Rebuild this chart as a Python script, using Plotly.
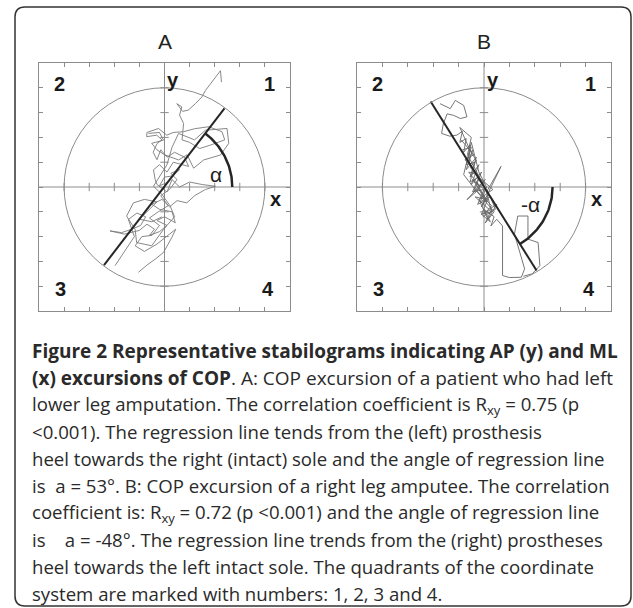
import numpy as np
import plotly.graph_objects as go

W, H = 633, 608

# ---- data (axis units, range -5..5, circle radius 4) ----
ticks = [-4, -3, -2, -1, 1, 2, 3, 4]
circle_r = 4

# panel A: COP excursion (left lower leg amputee)
copA1_x = [-1.97, -1.7, -1.45, -1.2, -1.44, -1.1, -0.75, -0.95, -1.3, -1.71, -2.17, -1.6,
           -1.0, -0.7, -0.4, -0.6, -0.2, 0.1, -0.3, 0.0, 0.43, 0.3, -0.2, -0.5, -0.1, 0.2,
           0.5, 0.89, 1.2, 1.63, 2.03, 1.5, 1.0, 0.6, 0.3, 0.1, -0.3, -0.37, -0.44, -0.2,
           0.1, 0.35, 0.96, 0.8, 0.4, 0.1, -0.15, -0.3, -0.45, -0.3, -0.1, -0.31, -0.71,
           -0.7, -0.24, 0.09, 0.35, 0.76, 1.2, 1.76, 2.29, 2.4, 1.83, 1.4, 1.0, 0.7, 0.76,
           0.6, 0.69, 0.49, 0.72, 0.95, 1.23, 1.49, 1.63, 1.9, 2.23, 2.27]
copA1_y = [-3.17, -2.75, -2.4, -2.0, -1.31, -1.05, -1.2, -1.55, -1.7, -1.84, -1.77, -1.9,
           -1.75, -1.5, -1.7, -1.95, -1.8, -1.55, -1.35, -1.2, -1.44, -1.0, -0.9, -0.7,
           -0.5, -0.8, -0.55, -0.64, -0.35, -0.1, 0.03, 0.1, 0.2, 0.0, 0.3, -0.2, 0.1,
           0.29, 0.69, 0.9, 0.6, 1.0, 0.83, 1.2, 1.4, 1.2, 1.5, 1.1, 1.4, 1.75, 1.9, 2.09,
           2.03, 2.2, 2.36, 2.09, 2.2, 2.23, 2.35, 2.43, 2.23, 1.9, 1.69, 1.55, 1.8, 1.9,
           2.56, 2.9, 3.23, 3.36, 3.05, 3.1, 3.36, 3.63, 3.89, 4.25, 4.69, 4.23]
copA2_x = [-1.04, -0.7, -0.37, -0.04, 0.29, 0.45, 0.2, -0.3, -0.8, -1.17, -0.9, -0.5, -0.2,
           -0.6, -0.25, 0.15, -0.15, 0.2, 0.5, 0.25, 0.6, 0.35, 0.0, -0.2, 0.15]
copA2_y = [-3.44, -3.15, -2.91, -2.64, -2.04, -1.7, -1.9, -2.3, -2.6, -2.37, -2.0, -1.95,
           -1.55, -1.25, -1.0, -0.75, -0.35, -0.1, 0.3, 0.55, 0.7, 0.45, 0.4, 0.05, 0.2]
copA3_x = [-0.64, -0.2, -0.04, -0.51, -0.3, 0.0, 0.56, 0.9, 1.16, 1.56, 2.23, 2.56, 2.49,
           1.63, 1.2, 0.56, 0.3, 0.1, -0.44, -0.1, 0.23, 0.4, -0.04, -0.51, -1.11, -1.17,
           -1.51, -1.24, -0.8, -0.3, -0.7, -1.0, -0.5, -0.1]
copA3_y = [2.16, 2.2, 1.89, 1.76, 1.5, 1.3, 1.09, 1.3, 0.76, 1.09, 1.29, 1.76, 2.36, 2.29,
           1.9, 2.16, 1.6, 0.9, 0.03, -0.3, -0.77, -1.2, -1.71, -2.37, -2.24, -1.71, -1.17,
           -0.64, -0.5, -0.6, -1.0, -1.3, -1.4, -1.2]
regA_x = [-2.41, 2.39]
regA_y = [-3.15, 3.17]

# panel B: COP excursion (right leg amputee)
copB1_x = [-1.73, -1.33, -1.13, -0.8, -0.67, -0.93, -1.2, -1.45, -1.6, -1.67, -1.35, -1.07,
           -0.85, -0.95, -0.7, -0.8, -0.55, -0.6, -0.45, -0.7, -0.3, -0.55, -0.2, -0.5,
           -0.1, -0.4, 0.05, -0.67, -0.2, 0.1, -0.3, 0.2, -0.1, 0.67, 0.1, 0.3, -0.1, 0.25,
           0.0, 0.4, 0.27, 0.5, 0.73]
copB1_y = [3.36, 3.16, 3.49, 3.29, 2.83, 2.76, 2.89, 2.95, 2.56, 2.16, 2.05, 2.09, 2.25,
           1.8, 1.95, 1.4, 1.7, 1.0, 1.5, 0.7, 1.2, 0.4, 0.9, 0.1, 0.6, -0.2, 0.3, -0.51,
           -0.1, -0.6, 0.2, -0.3, -0.8, 0.83, -0.2, -1.0, -1.1, -1.4, -0.9, -1.2, -1.57,
           -1.3, -1.57]
copB2_x = [0.73, 0.73, 1.0, 1.47, 1.6, 1.45, 1.3, 1.2, 1.33, 1.73, 1.73, 2.13, 2.2, 1.9,
           1.55]
copB2_y = [-1.57, -3.57, -3.65, -3.64, -3.3, -2.8, -2.3, -1.9, -1.17, -1.17, -2.1, -2.24,
           -3.17, -3.5, -3.6]
copB3_x = [-0.9, -0.4, -0.75, -0.25, -0.6, -0.15, -0.45, 0.1, -0.35, 0.2, 0.5, 0.15, -0.2,
           0.35, -0.15, -0.65, -0.5, -0.95, -0.6, -0.3, -0.55, 0.0, -0.3, 0.3, 0.05]
copB3_y = [1.9, 1.3, 1.1, 0.5, 0.6, 0.0, 0.3, -0.5, -0.4, -0.9, -0.7, -1.3, -0.5, -0.1,
           0.35, 1.3, 2.0, 2.4, 1.6, 1.05, 0.8, 0.15, -0.15, -0.75, -1.05]
copB4_x = [-0.85, -0.5, -0.7, -0.35, -0.55, -0.2, -0.45, 0.0, -0.25, 0.15, -0.1, 0.3, 0.05,
           0.4, -0.35, -0.8, -0.5, -0.2, 0.1, -0.15, 0.25, 0.45, -0.05]
copB4_y = [1.5, 1.6, 0.9, 1.0, 0.2, 0.4, -0.2, -0.1, -0.7, -0.5, -1.1, -0.9, -1.45, -1.0,
           -0.1, 0.5, 1.8, 0.6, 0.0, -0.6, -0.4, -0.9, -1.2]
regB_x = [-2.1, 2.07]
regB_y = [3.45, -3.37]

arc_r = 2.7
quadrants = ["1", "2", "3", "4"]
quad_x = [4.2, -4.2, -4.15, 4.12]
quad_y = [4.15, 4.15, -4.1, -4.1]

caption = [
    "<b>Figure 2 Representative stabilograms indicating AP (y) and ML</b>",
    "<b>(x) excursions of COP</b>. A: COP excursion of a patient who had left",
    "lower leg amputation. The correlation coefficient is R<sub>xy</sub> = 0.75 (p",
    "&lt;0.001). The regression line tends from the (left) prosthesis",
    "heel towards the right (intact) sole and the angle of regression line",
    "is&nbsp;&nbsp;a = 53°. B: COP excursion of a right leg amputee. The correlation",
    "coefficient is: R<sub>xy</sub> = 0.72 (p &lt;0.001) and the angle of regression line",
    "is&nbsp;&nbsp;&nbsp;&nbsp;a = -48°. The regression line trends from the (right) prostheses",
    "heel towards the left intact sole. The quadrants of the coordinate",
    "system are marked with numbers: 1, 2, 3 and 4.",
]

GRAY = "#8c8c8c"
TRACE_A = "#7a7a7a"
TRACE_B = "#666666"
DARK = "#262626"
LABEL_FONT = "Liberation Sans, Arial"


def px_x(v):
    # page pixel -> paper fraction
    return v / W


def px_y(v):
    return 1 - v / H


fig = go.Figure()

panels = [
    ("x", "y", [(copA1_x, copA1_y), (copA2_x, copA2_y), (copA3_x, copA3_y)], TRACE_A,
     regA_x, regA_y, "α", (2.05, 0.5), [39, 290], "A"),
    ("x2", "y2", [(copB1_x, copB1_y), (copB2_x, copB2_y), (copB3_x, copB3_y),
                  (copB4_x, copB4_y)], TRACE_B,
     regB_x, regB_y, "-α", (1.85, -0.72), [357, 611], "B"),
]

for xa, ya, paths, tcol, rx, ry, alab, apos, dom, title in panels:
    # zero lines with ticks
    fig.add_trace(go.Scatter(x=[-5, 5], y=[0, 0], xaxis=xa, yaxis=ya, mode="lines",
                             line=dict(color=GRAY, width=1), hoverinfo="skip"))
    fig.add_trace(go.Scatter(x=[0, 0], y=[-5, 5], xaxis=xa, yaxis=ya, mode="lines",
                             line=dict(color=GRAY, width=1), hoverinfo="skip"))
    fig.add_trace(go.Scatter(x=ticks, y=[0] * len(ticks), xaxis=xa, yaxis=ya, mode="markers",
                             marker=dict(symbol="line-ns", size=6,
                                         line=dict(color=GRAY, width=1)), hoverinfo="skip"))
    fig.add_trace(go.Scatter(x=[0] * len(ticks), y=ticks, xaxis=xa, yaxis=ya, mode="markers",
                             marker=dict(symbol="line-ew", size=6,
                                         line=dict(color=GRAY, width=1)), hoverinfo="skip"))
    # COP paths
    for cx, cy in paths:
        fig.add_trace(go.Scatter(x=cx, y=cy, xaxis=xa, yaxis=ya, mode="lines",
                                 line=dict(color=tcol, width=0.9)))
    # regression line
    fig.add_trace(go.Scatter(x=rx, y=ry, xaxis=xa, yaxis=ya, mode="lines",
                             line=dict(color=DARK, width=2)))
    # angle arc from the x axis to the regression line (right-hand end)
    ang = np.arctan2(ry[1], rx[1])
    t = np.linspace(0, ang, 40)
    fig.add_trace(go.Scatter(x=arc_r * np.cos(t), y=arc_r * np.sin(t), xaxis=xa, yaxis=ya,
                             mode="lines", line=dict(color=DARK, width=2.5)))
    fig.add_shape(type="circle", xref=xa, yref=ya, x0=-circle_r, y0=-circle_r,
                  x1=circle_r, y1=circle_r, line=dict(color=GRAY, width=1))
    # text labels
    for q, qx, qy in zip(quadrants, quad_x, quad_y):
        fig.add_annotation(x=qx, y=qy, xref=xa, yref=ya, text="<b>%s</b>" % q,
                           showarrow=False, xanchor="center", yanchor="middle",
                           font=dict(family=LABEL_FONT, size=20, color="#1a1a1a"))
    fig.add_annotation(x=0.35, y=4.3, xref=xa, yref=ya, text="<b>y</b>", showarrow=False,
                       xanchor="center", yanchor="middle",
                       font=dict(family=LABEL_FONT, size=20, color="#1a1a1a"))
    fig.add_annotation(x=4.42, y=-0.48, xref=xa, yref=ya, text="<b>x</b>", showarrow=False,
                       xanchor="center", yanchor="middle",
                       font=dict(family=LABEL_FONT, size=20, color="#1a1a1a"))
    fig.add_annotation(x=apos[0], y=apos[1], xref=xa, yref=ya, text=alab, showarrow=False,
                       xanchor="center", yanchor="middle",
                       font=dict(family=LABEL_FONT, size=21, color="#222"))
    fig.add_annotation(x=px_x((dom[0] + dom[1]) / 2), y=px_y(41), xref="paper",
                       yref="paper", text=title, showarrow=False,
                       xanchor="center", yanchor="middle",
                       font=dict(family=LABEL_FONT, size=21, color="#222"))

axis_common = dict(range=[-5, 5], dtick=1, ticks="inside", ticklen=4, tickcolor=GRAY,
                   showticklabels=False, showgrid=False, zeroline=False, showline=True,
                   linecolor=GRAY, linewidth=1, mirror="ticks", fixedrange=True)

fig.update_layout(
    width=W, height=H, margin=dict(l=0, r=0, t=0, b=0),
    paper_bgcolor="white", plot_bgcolor="white", showlegend=False,
    xaxis=dict(axis_common, domain=[px_x(39), px_x(290)], anchor="y"),
    yaxis=dict(axis_common, domain=[px_y(311), px_y(63)], anchor="x"),
    xaxis2=dict(axis_common, domain=[px_x(357), px_x(611)], anchor="y2"),
    yaxis2=dict(axis_common, domain=[px_y(311), px_y(63)], anchor="x2"),
)

# caption, one annotation per printed line
for i, line in enumerate(caption):
    fig.add_annotation(x=px_x(30), y=px_y(350.5 + 27 * i), xref="paper", yref="paper",
                       xanchor="left", yanchor="middle", text=line, showarrow=False,
                       font=dict(family="Open Sans", size=19 if i < 2 else 18.6,
                                 color="#2a2a2a"))

# outer rounded frame
x0, x1, y0, y1, r = 15, 631, 7, 606, 10
path = ("M {a},{b} L {c},{b} Q {d},{b} {d},{e} L {d},{f} Q {d},{g} {c},{g} "
        "L {a},{g} Q {h},{g} {h},{f} L {h},{e} Q {h},{b} {a},{b} Z").format(
    a=px_x(x0 + r), b=px_y(y0), c=px_x(x1 - r), d=px_x(x1), e=px_y(y0 + r),
    f=px_y(y1 - r), g=px_y(y1), h=px_x(x0))
fig.add_shape(type="path", xref="paper", yref="paper", path=path,
              line=dict(color="#333", width=1.5))

# drop the default 8px body margin so the figure fills the window
fig.write_html("out.html", config={"displayModeBar": False},
               post_script="document.body.style.margin='0';")
